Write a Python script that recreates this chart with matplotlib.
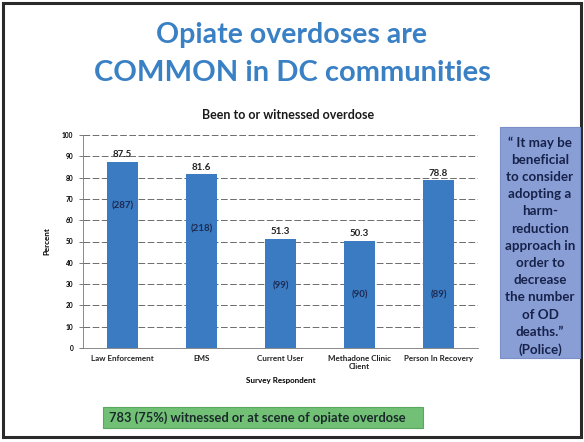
import matplotlib
matplotlib.use("Agg")
import matplotlib.pyplot as plt
from matplotlib.patches import Rectangle

categories = ["Law Enforcement", "EMS", "Current User", "Methadone Clinic\nClient", "Person In Recovery"]
percents = [87.5, 81.6, 51.3, 50.3, 78.8]
counts = [287, 218, 99, 90, 89]
count_label_y = [66.5, 56, 29, 25, 25]
yticks = list(range(0, 101, 10))

FONT = ["Lato", "DejaVu Sans"]
plt.rcParams["font.family"] = FONT

W, H = 584, 442
fig = plt.figure(figsize=(W / 100, H / 100), dpi=100)
fig.patch.set_facecolor("white")

# slide border
frame = fig.add_axes([0, 0, 1, 1])
frame.set_xlim(0, W)
frame.set_ylim(H, 0)
frame.axis("off")
frame.add_patch(Rectangle((3, 3), W - 6, H - 8, fill=False, edgecolor="#2a2a2a", lw=2.2))

# titles
fig.text(291 / W, 1 - 35 / H, "Opiate overdoses are", ha="center", va="center",
         fontsize=20.5, fontweight="bold", color="#3a80c4")
fig.text(292 / W, 1 - 73 / H, "COMMON in DC communities", ha="center", va="center",
         fontsize=21, fontweight="bold", color="#3a80c4")
fig.text(288 / W, 1 - 115 / H, "Been to or witnessed overdose", ha="center", va="center",
         fontsize=9, fontweight="bold", color="#1a1a1a")

# chart axes
x0, x1 = 83, 478
y_top, y_bot = 135, 348
ax = fig.add_axes([x0 / W, 1 - y_bot / H, (x1 - x0) / W, (y_bot - y_top) / H])
xs = list(range(len(categories)))
ax.bar(xs, percents, width=0.4, color="#3b7bc1", zorder=3)
ax.set_xlim(-0.5, len(categories) - 0.5)
ax.set_ylim(0, 100)
ax.set_yticks(yticks)
ax.set_yticklabels([str(v) for v in yticks], fontsize=4.8, fontweight="bold")
ax.set_xticks(xs)
ax.set_xticklabels(categories, fontsize=5.8, fontweight="bold", color="#222222")
ax.tick_params(axis="x", length=0, pad=5)
ax.tick_params(axis="y", length=3, width=0.6, color="#666666", pad=4)
ax.grid(axis="y", color="#555555", linestyle=(0, (8, 3)), lw=0.6, zorder=0)
for s in ["top", "right"]:
    ax.spines[s].set_visible(False)
ax.spines["left"].set_color("#777777")
ax.spines["left"].set_linewidth(0.6)
ax.spines["bottom"].set_color("#777777")
ax.spines["bottom"].set_linewidth(0.6)
ax.set_ylabel("Percent", fontsize=5.8, fontweight="bold", labelpad=8)
ax.set_xlabel("Survey Respondent", fontsize=5.8, fontweight="bold", labelpad=5)

for x, p, c, cy in zip(xs, percents, counts, count_label_y):
    ax.text(x, p + 1.2, f"{p:.1f}", ha="center", va="bottom", fontsize=7,
            fontweight="bold", color="#222222", zorder=4)
    ax.text(x, cy, f"({c})", ha="center", va="center", fontsize=7,
            fontweight="bold", color="#1c2a55", zorder=4)

# quote box
frame.add_patch(Rectangle((500, 127), 80, 231, facecolor="#8a9ed6", edgecolor="#7a8ec8", lw=0.8))
quote = "\u201c It may be\nbeneficial\nto consider\nadopting a\nharm-\nreduction\napproach in\norder to\ndecrease\nthe number\nof OD\ndeaths.\u201d\n(Police)"
frame.text(540, 246, quote, ha="center", va="center", fontsize=9.6,
           fontweight="bold", color="#16224a", linespacing=1.52)

# green box
frame.add_patch(Rectangle((103, 407), 320, 21, facecolor="#72c076", edgecolor="#5aa860", lw=0.8))
frame.text(109, 417.5, "783 (75%) witnessed or at scene of opiate overdose", ha="left", va="center",
           fontsize=9.3, fontweight="bold", color="#1a2a2a")

fig.savefig("out.png", dpi=100, facecolor="white")
